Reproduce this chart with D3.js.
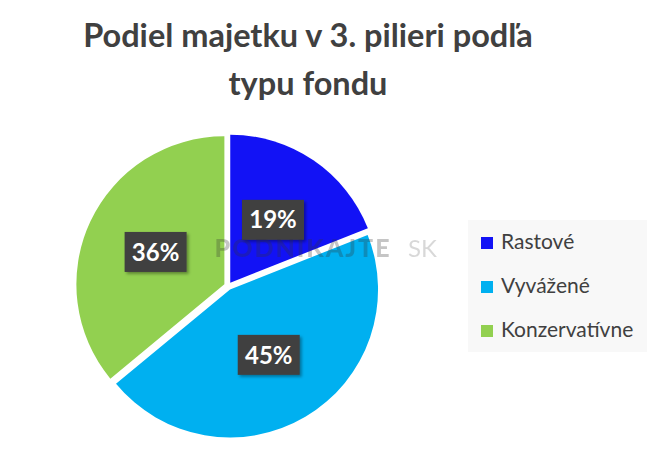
<!DOCTYPE html>
<html>
<head>
<meta charset="utf-8">
<script src="https://cdn.jsdelivr.net/npm/d3@7"></script>
<style>
  body { margin: 0; background: #fff; }
  svg { display: block; }
</style>
</head>
<body>
<div id="chart"></div>
<script>
  'use strict';

  const titleLines = ['Podiel majetku v 3. pilieri podľa', 'typu fondu'];
  const categories = ['Rastové', 'Vyvážené', 'Konzervatívne'];
  const shares = [19, 45, 36];
  const colors = ['#1212f5', '#00b0f0', '#92d050'];

  var width = 656;
  var height = 459;
  var font = 'Lato, "Open Sans", sans-serif';

  var svg = d3.select('#chart').append('svg')
    .attr('width', width)
    .attr('height', height);

  /* shadow for the value labels */
  var defs = svg.append('defs');
  var filter = defs.append('filter')
    .attr('id', 'shadow')
    .attr('x', '-20%').attr('y', '-20%')
    .attr('width', '150%').attr('height', '160%');
  filter.append('feDropShadow')
    .attr('dx', 2).attr('dy', 2)
    .attr('stdDeviation', 1.5)
    .attr('flood-color', '#000')
    .attr('flood-opacity', 0.35);

  // title
  svg.append('g').selectAll('text')
    .data(titleLines)
    .enter()
    .append('text')
    .attr('x', 308)
    .attr('y', function (d, i) { return 47 + i * 48; })
    .attr('text-anchor', 'middle')
    .style('font-family', font)
    .style('font-weight', 700)
    .style('font-size', '32.5px')
    .style('fill', '#404040')
    .text(function (d) { return d; });

  // pie
  var cx = 228;
  var cy = 286;
  var radius = 148;
  var explode = 4;

  var pie = d3.pie().sort(null).value(function (d) { return d; });
  var arc = d3.arc().innerRadius(0).outerRadius(radius);
  var labelArc = d3.arc().innerRadius(76 * 2 - radius).outerRadius(radius);
  var slices = pie(shares);

  var pieG = svg.append('g')
    .attr('transform', 'translate(' + cx + ',' + cy + ')');

  function shift(d) {
    var a = (d.startAngle + d.endAngle) / 2;
    return [Math.sin(a) * explode, -Math.cos(a) * explode];
  }

  pieG.selectAll('path')
    .data(slices)
    .enter()
    .append('path')
    .attr('d', arc)
    .attr('transform', function (d) { return 'translate(' + shift(d) + ')'; })
    .attr('fill', function (d, i) { return colors[i]; });

  // watermark
  var wm = svg.append('g').attr('opacity', 0.28);
  wm.append('text')
    .attr('x', 303).attr('y', 257)
    .attr('text-anchor', 'middle')
    .style('font-family', font)
    .style('font-weight', 900)
    .style('font-size', '25px')
    .style('letter-spacing', '2px')
    .style('fill', '#333')
    .text('PODNIKAJTE');
  wm.append('text')
    .attr('x', 408).attr('y', 257)
    .style('font-family', font)
    .style('font-size', '24px')
    .style('fill', '#777')
    .text('SK');

  // value labels
  var labels = pieG.selectAll('g.label')
    .data(slices)
    .enter()
    .append('g')
    .attr('class', 'label')
    .attr('transform', function (d) {
      var c = labelArc.centroid(d);
      var s = shift(d);
      return 'translate(' + (c[0] + s[0]) + ',' + (c[1] + s[1]) + ')';
    });

  labels.append('rect')
    .attr('x', -31).attr('y', -20)
    .attr('width', 62).attr('height', 40)
    .attr('fill', '#404040')
    .attr('filter', 'url(#shadow)');

  labels.append('text')
    .attr('text-anchor', 'middle')
    .attr('dy', '0.36em')
    .style('font-family', font)
    .style('font-weight', 700)
    .style('font-size', '24px')
    .style('fill', '#fff')
    .text(function (d) { return d.data + '%'; });

  // legend
  var legend = svg.append('g');
  legend.append('rect')
    .attr('x', 468).attr('y', 220)
    .attr('width', 179).attr('height', 132)
    .attr('fill', '#f8f8f8');

  var items = legend.selectAll('g.item')
    .data(categories)
    .enter()
    .append('g')
    .attr('class', 'item')
    .attr('transform', function (d, i) { return 'translate(481,' + (237 + i * 44) + ')'; });

  items.append('rect')
    .attr('width', 12).attr('height', 12)
    .attr('fill', function (d, i) { return colors[i]; });

  items.append('text')
    .attr('x', 20).attr('y', 12)
    .style('font-family', font)
    .style('font-size', '21px')
    .style('fill', '#404040')
    .text(function (d) { return d; });
</script>
</body>
</html>
